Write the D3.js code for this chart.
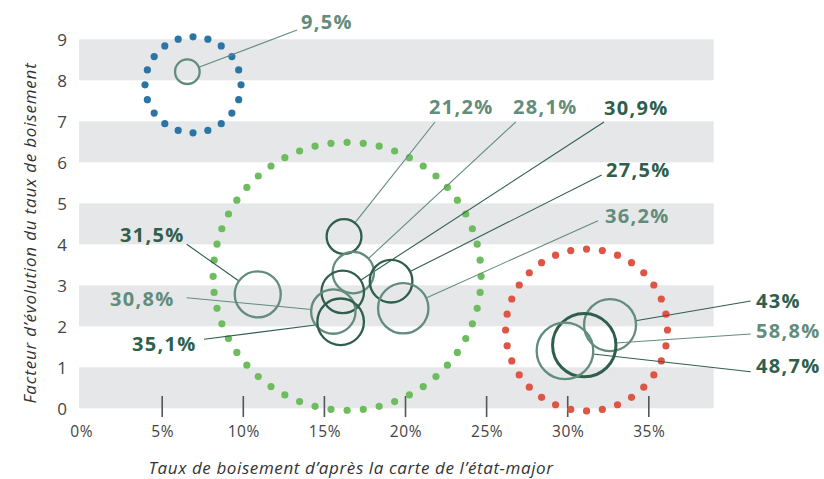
<!DOCTYPE html>
<html>
<head>
<meta charset="utf-8">
<script src="https://cdn.jsdelivr.net/npm/d3@7"></script>
<style>
  html, body { margin: 0; padding: 0; background: #fff; }
  svg { display: block; }
</style>
</head>
<body>
<svg id="chart" width="824" height="479"></svg>
<script>
// ---- Data ----
const labels   = ["9,5%", "21,2%", "28,1%", "30,9%", "27,5%", "36,2%", "31,5%", "30,8%", "35,1%", "43%", "58,8%", "48,7%"];
const xValues  = [6.55, 16.21, 16.78, 16.13, 19.11, 19.86, 10.89, 15.55, 16.0, 32.61, 31.02, 29.83]; // % forest rate (état-major)
const yValues  = [8.21, 4.19, 3.31, 2.84, 3.10, 2.44, 2.78, 2.36, 2.11, 2.03, 1.54, 1.40];          // evolution factor
const sizes    = [148, 296, 418, 443, 443, 620, 517, 481, 530, 660, 981, 782];
const circleTone = ["light", "dark", "light", "dark", "dark", "light", "light", "light", "dark", "light", "dark", "light"];
const labelTone  = ["light", "light", "light", "dark", "dark", "light", "dark", "light", "dark", "dark", "light", "dark"];

const groupX      = [6.9, 16.4, 31.16];
const groupY      = [7.89, 3.22, 1.91];
const groupRadius = [2.96, 8.26, 4.99]; // in x units (%)
const groupDots   = [20, 52, 32];
const groupColor  = ["#2a75a6", "#6dbd5e", "#dd5545"];

const xTicks = [0, 5, 10, 15, 20, 25, 30, 35];
const yTicks = [0, 1, 2, 3, 4, 5, 6, 7, 8, 9];

// label layout (annotation placement): [textX, baselineY, leaderEndX, leaderEndY]
const labelLayout = [
  [301, 29, 297, 30],
  [429, 114, 435, 122],
  [513, 114, 515.7, 122],
  [604, 115, 604, 122],
  [606, 177, 601.7, 175],
  [605, 223, 598, 220.7],
  [120, 242, 186.7, 244.3],
  [110, 306, 186.7, 297.7],
  [132, 351, 204, 339.3],
  [756, 308, 750.7, 301],
  [756, 338, 750.7, 334],
  [756, 373, 750.7, 371.7]
];

const colors = { dark: "#2f5f4b", light: "#628c7b" };

// ---- Scales ----
const svg = d3.select("#chart");
const x = d3.scaleLinear().domain([0, 39]).range([81.1, 713.7]);
const y = d3.scaleLinear().domain([0, 9]).range([408.3, 39.3]);
const r = d3.scaleSqrt().domain([0, 1000]).range([0, 32]);

// ---- Bands ----
svg.append("g").selectAll("rect")
  .data([0, 2, 4, 6, 8])
  .join("rect")
  .attr("x", x(0) - 2)
  .attr("width", x(39) - x(0) + 2)
  .attr("y", d => y(d + 1))
  .attr("height", d => y(d) - y(d + 1))
  .attr("fill", "#e6e7e8");

// ---- X ticks ----
const xAxis = d3.axisBottom(x).tickValues(xTicks).tickFormat(d => d + "%").tickSize(0).tickPadding(0);
const gx = svg.append("g");
gx.selectAll("line.tk").data(xTicks.filter(d => d > 0)).join("line")
  .attr("x1", d => x(d)).attr("x2", d => x(d))
  .attr("y1", 396).attr("y2", 417)
  .attr("stroke", "#555").attr("stroke-width", 1.6);
const gxa = svg.append("g").attr("transform", "translate(0,437)").call(xAxis);
gxa.select(".domain").remove();
gxa.selectAll("text")
  .attr("dy", 0)
  .attr("font-family", "'Open Sans', sans-serif")
  .attr("font-size", 15.5)
  .attr("letter-spacing", 0.6)
  .attr("fill", "#444");

// ---- Y ticks ----
const yAxis = d3.axisLeft(y).tickValues(yTicks).tickSize(0).tickPadding(0);
const gya = svg.append("g").attr("transform", "translate(67,1)").call(yAxis);
gya.select(".domain").remove();
gya.selectAll("text")
  .attr("font-family", "'Open Sans', sans-serif")
  .attr("font-size", 17)
  .attr("fill", "#444");

// ---- Axis titles ----
svg.append("text")
  .attr("x", 351).attr("y", 474)
  .attr("text-anchor", "middle")
  .attr("font-family", "'Open Sans', sans-serif")
  .attr("font-style", "italic")
  .attr("font-size", 17)
  .attr("letter-spacing", 0.6)
  .attr("fill", "#333")
  .text("Taux de boisement d’après la carte de l’état-major");

svg.append("text")
  .attr("transform", "translate(36,233) rotate(-90)")
  .attr("text-anchor", "middle")
  .attr("font-family", "'Open Sans', sans-serif")
  .attr("font-style", "italic")
  .attr("font-size", 17)
  .attr("letter-spacing", 0.8)
  .attr("fill", "#333")
  .text("Facteur d’évolution du taux de boisement");

// ---- Dotted group circles ----
const pxPerUnit = x(1) - x(0);
groupX.forEach((gxv, i) => {
  const cx = x(gxv), cy = y(groupY[i]), R = groupRadius[i] * pxPerUnit;
  const n = groupDots[i];
  svg.append("g").selectAll("circle")
    .data(d3.range(n))
    .join("circle")
    .attr("cx", k => cx + R * Math.cos(-Math.PI / 2 + 2 * Math.PI * k / n))
    .attr("cy", k => cy + R * Math.sin(-Math.PI / 2 + 2 * Math.PI * k / n))
    .attr("r", 3.6)
    .attr("fill", groupColor[i]);
});

// ---- Leader lines ----
const items = labels.map((l, i) => ({
  label: l, cx: x(xValues[i]), cy: y(yValues[i]), rr: r(sizes[i]),
  ctone: circleTone[i], ltone: labelTone[i], lay: labelLayout[i], i
}));

svg.append("g").selectAll("line")
  .data(items)
  .join("line")
  .attr("x1", d => {
    const dx = d.lay[2] - d.cx, dy = d.lay[3] - d.cy, n = Math.hypot(dx, dy);
    return d.cx + d.rr * dx / n;
  })
  .attr("y1", d => {
    const dx = d.lay[2] - d.cx, dy = d.lay[3] - d.cy, n = Math.hypot(dx, dy);
    return d.cy + d.rr * dy / n;
  })
  .attr("x2", d => d.lay[2])
  .attr("y2", d => d.lay[3])
  .attr("stroke", d => colors[d.ltone])
  .attr("stroke-width", 1.1);

// ---- Bubbles ----
svg.append("g").selectAll("circle")
  .data(items)
  .join("circle")
  .attr("cx", d => d.cx)
  .attr("cy", d => d.cy)
  .attr("r", d => d.rr)
  .attr("fill", "none")
  .attr("stroke", d => colors[d.ctone])
  .attr("stroke-width", d => d.label === "58,8%" ? 3 : 2.3);

// ---- Labels ----
svg.append("g").selectAll("text")
  .data(items)
  .join("text")
  .attr("x", d => d.lay[0])
  .attr("y", d => d.lay[1])
  .attr("font-family", "'Open Sans', sans-serif")
  .attr("font-weight", 700)
  .attr("font-size", 20)
  .attr("letter-spacing", 1.3)
  .attr("fill", d => colors[d.ltone])
  .text(d => d.label);
</script>
</body>
</html>
